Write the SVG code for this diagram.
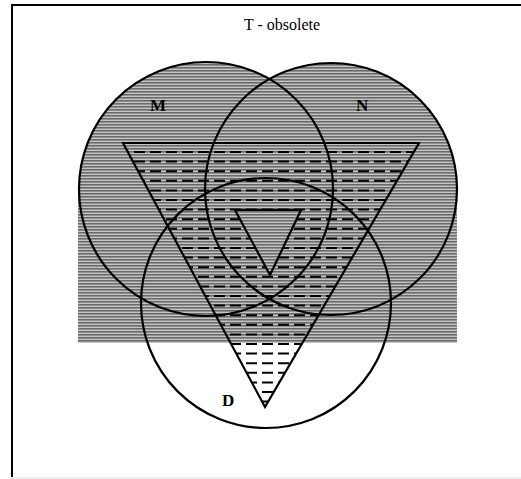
<svg xmlns="http://www.w3.org/2000/svg" width="521" height="479" viewBox="0 0 521 479">
  <defs>
    <pattern id="stripes" width="6" height="3" patternUnits="userSpaceOnUse">
      <rect width="6" height="3" fill="#c4c4c4"/>
      <rect y="1" width="6" height="1.6" fill="#6a6a6a"/>
    </pattern>
    <clipPath id="bigTri">
      <polygon points="123,143 419,143 265,407"/>
    </clipPath>
  </defs>
  <style>
    .outline { fill: none; stroke: #000; stroke-width: 2.2; }
    .hatch { stroke: #000; stroke-width: 2; stroke-dasharray: 11 5; }
    .lbl { font-family: "Liberation Serif", "Times New Roman", serif; font-weight: bold; font-size: 17px; fill: #000; }
    .title { font-family: "Liberation Serif", "Times New Roman", serif; font-size: 16px; fill: #000; }
  </style>
  <rect width="521" height="479" fill="#fff"/>
  <g id="frame">
    <line x1="12" y1="5" x2="521" y2="5" stroke="#000" stroke-width="2"/>
    <line x1="12" y1="4" x2="12" y2="477" stroke="#000" stroke-width="2"/>
    <line x1="12" y1="478" x2="521" y2="478" stroke="#ddd" stroke-width="1"/>
  </g>
  <g id="shading">
    <circle cx="206" cy="189" r="127" fill="url(#stripes)"/>
    <circle cx="331" cy="189" r="126" fill="url(#stripes)"/>
    <rect x="78" y="189" width="379" height="154" fill="url(#stripes)"/>
  </g>
  <g id="hatching" clip-path="url(#bigTri)">
    <path class="hatch" d="M118 152H424M118 161.6H424M118 171.2H424M118 180.8H424M118 190.4H424M118 200H424M118 209.6H424M118 219.2H424M118 228.8H424M118 238.4H424M118 248H424M118 257.6H424M118 267.2H424M118 276.8H424M118 286.4H424M118 296H424M118 305.6H424M118 315.2H424M118 324.8H424M118 334.4H424M118 344H424M118 353.6H424M118 363.2H424M118 372.8H424M118 382.4H424M118 392H424M118 401.6H424"/>
    <polygon points="235,210 301,210 270,275" fill="url(#stripes)"/>
  </g>
  <g id="circle-M">
    <circle class="outline" cx="206" cy="189" r="127"/>
    <text class="lbl" x="150" y="111">M</text>
  </g>
  <g id="circle-N">
    <circle class="outline" cx="331" cy="189" r="126"/>
    <text class="lbl" x="356" y="111">N</text>
  </g>
  <g id="circle-D">
    <circle class="outline" cx="266" cy="303" r="125"/>
    <text class="lbl" x="222" y="406">D</text>
  </g>
  <g id="triangle-T">
    <polygon class="outline" points="123,143 419,143 265,407"/>
  </g>
  <g id="triangle-inner">
    <polygon class="outline" points="235,210 301,210 270,275"/>
  </g>
  <g id="title">
    <text class="title" x="282" y="30" text-anchor="middle">T - obsolete</text>
  </g>
  <g id="connectors"/>
</svg>
